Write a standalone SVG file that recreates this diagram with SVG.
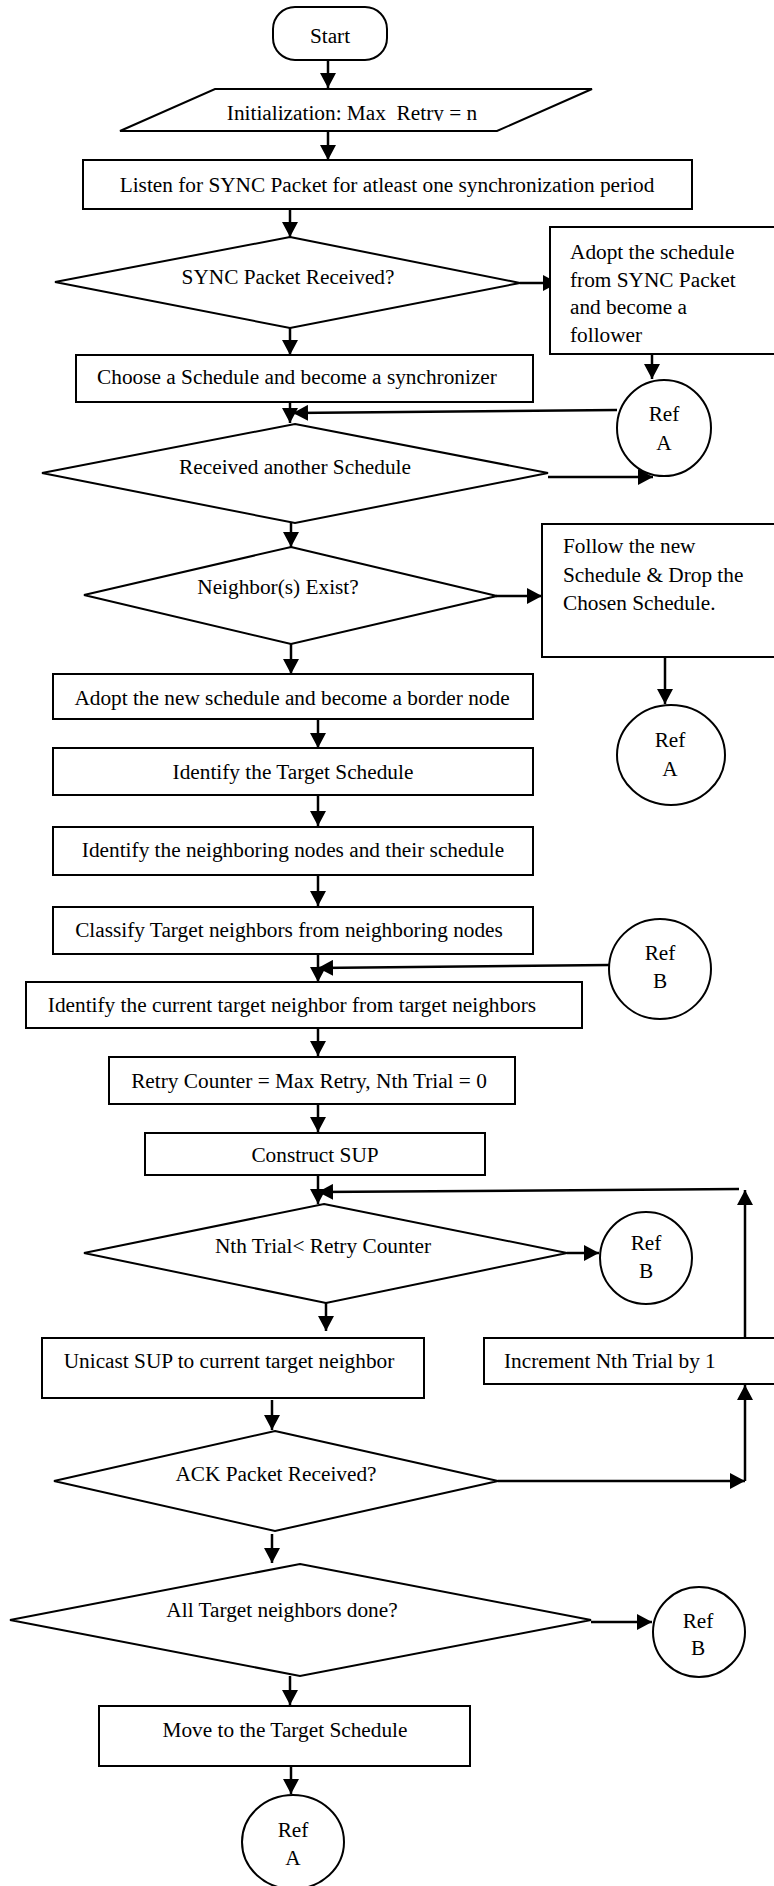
<svg xmlns="http://www.w3.org/2000/svg" width="774" height="1886" viewBox="0 0 774 1886">
<style>
.s{fill:#fff;stroke:#000;stroke-width:2}
.t{font-family:"Liberation Serif","Times New Roman",serif;font-size:21.3px;fill:#000}
.m{text-anchor:middle}
.c{fill:none;stroke:#000;stroke-width:2.5;marker-end:url(#ah)}
.p{fill:none;stroke:#000;stroke-width:2.5}
</style>
<defs>
<marker id="ah" markerUnits="userSpaceOnUse" markerWidth="16" markerHeight="16" refX="15" refY="8" orient="auto">
<path d="M0,0 L15,8 L0,16 z" fill="#000"/>
</marker>
<clipPath id="clipInit"><rect x="0" y="80" width="774" height="41"/></clipPath>
</defs>
<rect width="774" height="1886" fill="#fff"/>

<g id="connectors">
<line class="c" x1="328" y1="60" x2="328" y2="88"/>
<line class="c" x1="328" y1="131" x2="328" y2="160"/>
<line class="c" x1="290" y1="209" x2="290" y2="237"/>
<line class="c" x1="520" y1="283" x2="558" y2="283"/>
<line class="c" x1="652" y1="354" x2="652" y2="379"/>
<line class="c" x1="290" y1="328" x2="290" y2="355"/>
<line class="c" x1="290" y1="402" x2="290" y2="423"/>
<line class="c" x1="617" y1="410" x2="293" y2="413"/>
<line class="c" x1="548" y1="477" x2="653" y2="477"/>
<line class="c" x1="291" y1="523" x2="291" y2="547"/>
<line class="c" x1="496" y1="596" x2="542" y2="596"/>
<line class="c" x1="665" y1="657" x2="665" y2="704"/>
<line class="c" x1="291" y1="644" x2="291" y2="674"/>
<line class="c" x1="318" y1="719" x2="318" y2="748"/>
<line class="c" x1="318" y1="795" x2="318" y2="826"/>
<line class="c" x1="318" y1="875" x2="318" y2="906"/>
<line class="c" x1="318" y1="954" x2="318" y2="982"/>
<line class="c" x1="609" y1="965" x2="318" y2="968"/>
<line class="c" x1="318" y1="1028" x2="318" y2="1056"/>
<line class="c" x1="318" y1="1104" x2="318" y2="1132"/>
<line class="c" x1="318" y1="1175" x2="318" y2="1204"/>
<line class="c" x1="745" y1="1338" x2="745" y2="1190"/>
<line class="c" x1="739" y1="1189" x2="318" y2="1192"/>
<line class="c" x1="567" y1="1253" x2="599" y2="1253"/>
<line class="c" x1="326" y1="1303" x2="326" y2="1331"/>
<line class="c" x1="272" y1="1400" x2="272" y2="1430"/>
<line class="c" x1="498" y1="1481" x2="745" y2="1481"/>
<line class="c" x1="745" y1="1481" x2="745" y2="1385"/>
<line class="c" x1="272" y1="1534" x2="272" y2="1563"/>
<line class="c" x1="591" y1="1622" x2="652" y2="1622"/>
<line class="c" x1="290" y1="1676" x2="290" y2="1705"/>
<line class="c" x1="291" y1="1766" x2="291" y2="1794"/>
</g>

<g id="start">
<rect class="s" x="273" y="7" width="114" height="53" rx="22" ry="22"/>
<text class="t m" x="330" y="43">Start</text>
</g>

<g id="init">
<polygon class="s" points="215,89 592,89 497,131 120,131"/>
<text class="t m" x="352" y="120" xml:space="preserve" clip-path="url(#clipInit)">Initialization: Max  Retry = n</text>
</g>

<g id="listen">
<rect class="s" x="83" y="160" width="609" height="49"/>
<text class="t m" x="387" y="192">Listen for SYNC Packet for atleast one synchronization period</text>
</g>

<g id="syncReceived">
<polygon class="s" points="290,237 520,283 290,328 55,282"/>
<text class="t m" x="288" y="284">SYNC Packet Received?</text>
</g>

<g id="adoptFollower">
<rect class="s" x="550" y="227" width="240" height="127"/>
<text class="t" x="570" y="259">Adopt the schedule</text>
<text class="t" x="570" y="287">from SYNC Packet</text>
<text class="t" x="570" y="314">and become a</text>
<text class="t" x="570" y="342">follower</text>
</g>

<g id="refA1">
<ellipse class="s" cx="664" cy="428" rx="47" ry="48"/>
<text class="t m" x="664" y="421">Ref</text>
<text class="t m" x="664" y="450">A</text>
</g>

<g id="choose">
<rect class="s" x="76" y="355" width="457" height="47"/>
<text class="t m" x="297" y="384">Choose a Schedule and become a synchronizer</text>
</g>

<g id="receivedAnother">
<polygon class="s" points="295,424 548,473 295,523 42,473"/>
<text class="t m" x="295" y="474">Received another Schedule</text>
</g>

<g id="neighborsExist">
<polygon class="s" points="291,547 497,596 291,644 84,595"/>
<text class="t m" x="278" y="594">Neighbor(s) Exist?</text>
</g>

<g id="followNew">
<rect class="s" x="542" y="524" width="248" height="133"/>
<text class="t" x="563" y="553">Follow the new</text>
<text class="t" x="563" y="582">Schedule &amp; Drop the</text>
<text class="t" x="563" y="610">Chosen Schedule.</text>
</g>

<g id="refA2">
<ellipse class="s" cx="671" cy="755" rx="54" ry="50"/>
<text class="t m" x="670" y="747">Ref</text>
<text class="t m" x="670" y="776">A</text>
</g>

<g id="adoptBorder">
<rect class="s" x="53" y="674" width="480" height="45"/>
<text class="t m" x="292" y="705">Adopt the new schedule and become a border node</text>
</g>

<g id="identifyTarget">
<rect class="s" x="53" y="748" width="480" height="47"/>
<text class="t m" x="293" y="779">Identify the Target Schedule</text>
</g>

<g id="identifyNeighboring">
<rect class="s" x="53" y="827" width="480" height="48"/>
<text class="t m" x="293" y="857">Identify the neighboring nodes and their schedule</text>
</g>

<g id="classify">
<rect class="s" x="53" y="907" width="480" height="47"/>
<text class="t m" x="289" y="937">Classify Target neighbors from neighboring nodes</text>
</g>

<g id="refB1">
<ellipse class="s" cx="660" cy="969" rx="51" ry="50"/>
<text class="t m" x="660" y="960">Ref</text>
<text class="t m" x="660" y="988">B</text>
</g>

<g id="identifyCurrent">
<rect class="s" x="26" y="982" width="556" height="46"/>
<text class="t m" x="292" y="1012">Identify the current target neighbor from target neighbors</text>
</g>

<g id="retryCounter">
<rect class="s" x="109" y="1057" width="406" height="47"/>
<text class="t m" x="309" y="1088">Retry Counter = Max Retry, Nth Trial = 0</text>
</g>

<g id="constructSUP">
<rect class="s" x="145" y="1133" width="340" height="42"/>
<text class="t m" x="315" y="1162">Construct SUP</text>
</g>

<g id="nthTrial">
<polygon class="s" points="324,1204 567,1253 326,1303 84,1253"/>
<text class="t m" x="323" y="1253">Nth Trial&lt; Retry Counter</text>
</g>

<g id="refB2">
<ellipse class="s" cx="646" cy="1258" rx="46" ry="46"/>
<text class="t m" x="646" y="1250">Ref</text>
<text class="t m" x="646" y="1278">B</text>
</g>

<g id="unicast">
<rect class="s" x="42" y="1338" width="382" height="60"/>
<text class="t m" x="229" y="1368">Unicast SUP to current target neighbor</text>
</g>

<g id="increment">
<rect class="s" x="484" y="1338" width="306" height="46"/>
<text class="t" x="504" y="1368">Increment Nth Trial by 1</text>
</g>

<g id="ackReceived">
<polygon class="s" points="275,1431 498,1481 275,1531 54,1481"/>
<text class="t m" x="276" y="1481">ACK Packet Received?</text>
</g>

<g id="allDone">
<polygon class="s" points="300,1564 591,1620 300,1676 10,1620"/>
<text class="t m" x="282" y="1617">All Target neighbors done?</text>
</g>

<g id="refB3">
<ellipse class="s" cx="699" cy="1632" rx="46" ry="45"/>
<text class="t m" x="698" y="1628">Ref</text>
<text class="t m" x="698" y="1655">B</text>
</g>

<g id="moveTarget">
<rect class="s" x="99" y="1706" width="371" height="60"/>
<text class="t m" x="285" y="1737">Move to the Target Schedule</text>
</g>

<g id="refA3">
<ellipse class="s" cx="293" cy="1842" rx="51" ry="47"/>
<text class="t m" x="293" y="1837">Ref</text>
<text class="t m" x="293" y="1865">A</text>
</g>
</svg>
